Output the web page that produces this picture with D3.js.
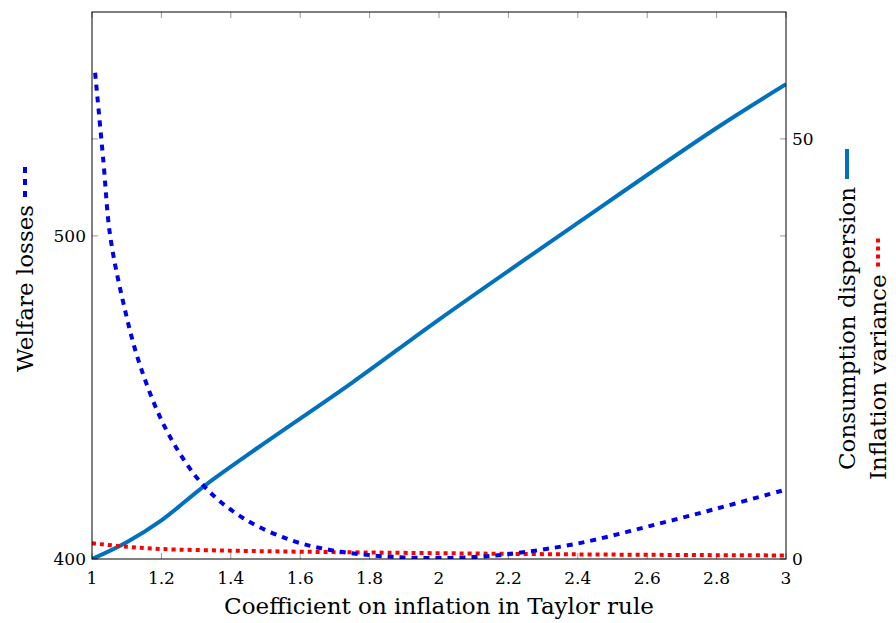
<!DOCTYPE html>
<meta charset="utf-8">
<script src="https://d3js.org/d3.v7.min.js"></script>
<style>
body { margin: 0; background: #fff; }
</style>
<div id="main"></div>
<script>
// welfare losses (left axis)
const welfareX = [1.009, 1.033, 1.052, 1.089, 1.138, 1.216, 1.32, 1.435, 1.571, 1.686, 1.8, 1.9, 2.0, 2.1, 2.2, 2.4, 2.6, 2.8, 3.0];
const welfareY = [550.5, 522.9, 500.3, 479.9, 460.1, 439.6, 422.9, 412.7, 405.9, 402.8, 401.2, 400.5, 400.3, 400.6, 401.5, 404.8, 410.0, 415.6, 421.5];
// consumption dispersion (right axis)
const dispX = [1.0, 1.1, 1.2, 1.327, 1.48, 1.75, 2.0, 2.4, 2.8, 3.0];
const dispY = [0, 2.0, 4.6, 8.8, 13.3, 21.0, 28.5, 40.0, 51.3, 56.5];
// inflation variance (right axis)
const inflX = [1.0, 1.1, 1.2, 1.4, 1.6, 1.85, 2.4, 3.0];
const inflY = [1.87, 1.46, 1.19, 0.99, 0.87, 0.75, 0.55, 0.42];

const xTicks = [1, 1.2, 1.4, 1.6, 1.8, 2, 2.2, 2.4, 2.6, 2.8, 3];
const leftTicks = [400, 500];
const rightTicks = [0, 50];

const W = 896, H = 623;
const FONT = "'DejaVu Serif', serif";
const m = {left: 92, right: 110, top: 12, bottom: 64};
const x = d3.scaleLinear().domain([1, 3]).range([m.left, W - m.right]);
const yL = d3.scaleLinear().domain([400, 569.3]).range([H - m.bottom, m.top]);
const yR = d3.scaleLinear().domain([0, 65.1]).range([H - m.bottom, m.top]);

const svg = d3.select("#main").append("svg").attr("width", W).attr("height", H)
    .attr("font-family", FONT);
svg.append("clipPath").attr("id", "c").append("rect")
    .attr("x", m.left).attr("y", m.top).attr("width", x(3) - m.left).attr("height", H - m.bottom - m.top);

const tl = 6;
const g = svg.append("g").attr("stroke", "#999").attr("stroke-width", 1);
xTicks.forEach(t => {
  g.append("line").attr("x1", x(t)).attr("x2", x(t)).attr("y1", yL.range()[0]).attr("y2", yL.range()[0] - tl);
  g.append("line").attr("x1", x(t)).attr("x2", x(t)).attr("y1", m.top).attr("y2", m.top + tl);
});
leftTicks.forEach(t => {
  g.append("line").attr("x1", m.left).attr("x2", m.left + tl).attr("y1", yL(t)).attr("y2", yL(t));
  g.append("line").attr("x1", x(3)).attr("x2", x(3) - tl).attr("y1", yL(t)).attr("y2", yL(t));
});
rightTicks.forEach(t => {
  g.append("line").attr("x1", x(3)).attr("x2", x(3) - tl).attr("y1", yR(t)).attr("y2", yR(t));
  g.append("line").attr("x1", m.left).attr("x2", m.left + tl).attr("y1", yR(t)).attr("y2", yR(t));
});

const line = (xs, ys, y) => d3.line().curve(d3.curveCatmullRom.alpha(0.5)).x((d, i) => x(xs[i])).y(d => y(d))(ys);
const plot = svg.append("g").attr("clip-path", "url(#c)").attr("fill", "none");
plot.append("path").attr("d", line(dispX, dispY, yR)).attr("stroke", "#0072bd").attr("stroke-width", 4);
plot.append("path").attr("d", line(inflX, inflY, yR)).attr("stroke", "#ff0000").attr("stroke-width", 4).attr("stroke-dasharray", "4 4");
plot.append("path").attr("d", line(welfareX, welfareY, yL)).attr("stroke", "#0000ee").attr("stroke-width", 4).attr("stroke-dasharray", "6 6");

svg.append("rect").attr("x", m.left).attr("y", m.top).attr("width", x(3) - m.left).attr("height", H - m.bottom - m.top)
    .attr("fill", "none").attr("stroke", "#000").attr("stroke-width", 1);

xTicks.forEach(t => svg.append("text").attr("x", x(t)).attr("y", 584).attr("text-anchor", "middle")
    .attr("font-size", 17).text(t));
leftTicks.forEach(t => svg.append("text").attr("x", m.left - 6).attr("y", yL(t) + 6).attr("text-anchor", "end")
    .attr("font-size", 17).text(t));
rightTicks.forEach(t => svg.append("text").attr("x", x(3) + 6).attr("y", yR(t) + 6)
    .attr("font-size", 17).text(t));

svg.append("text").attr("x", x(2)).attr("y", 614).attr("text-anchor", "middle").attr("font-size", 23)
    .text("Coefficient on inflation in Taylor rule");

// rotated legend-labels
function sideLabel(cx, bottom, label, color, dash) {
  const gg = svg.append("g").attr("transform", `translate(${cx},${bottom}) rotate(-90)`);
  const t = gg.append("text").attr("x", 0).attr("y", 0).attr("font-size", 23).text(label);
  const w = t.node().getComputedTextLength();
  gg.append("line").attr("x1", w + 8).attr("x2", w + 38).attr("y1", -8).attr("y2", -8)
    .attr("stroke", color).attr("stroke-width", 4).attr("stroke-dasharray", dash);
}
sideLabel(33, 372, "Welfare losses", "#0000ee", "6 6");
sideLabel(855, 470, "Consumption dispersion", "#0072bd", null);
sideLabel(886, 480, "Inflation variance", "#ff0000", "4 4");
</script>
